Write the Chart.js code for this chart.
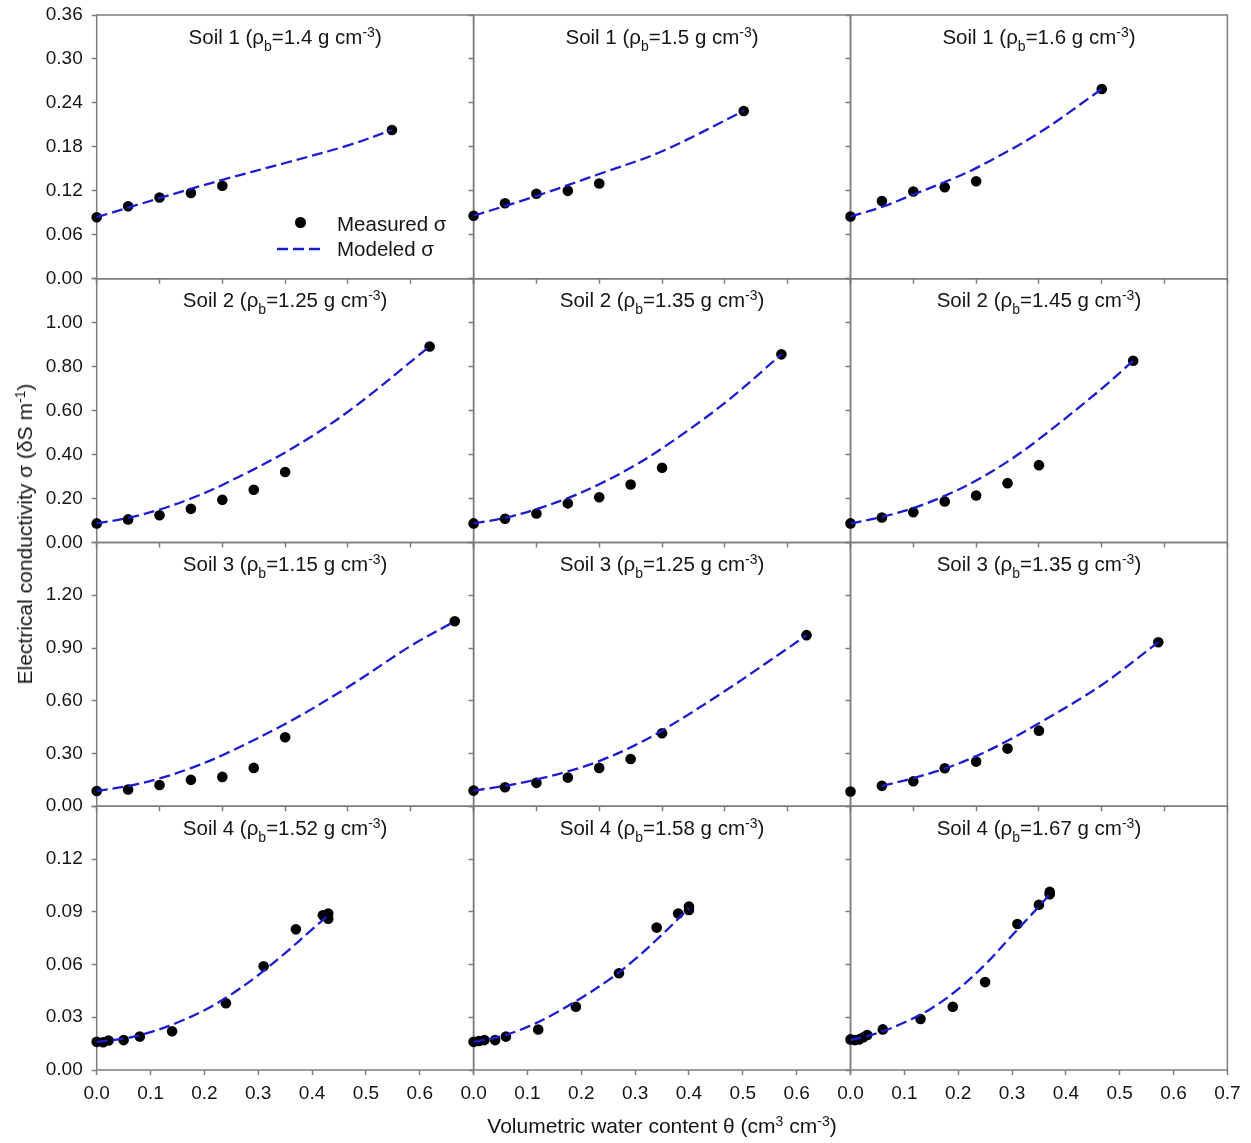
<!DOCTYPE html>
<html>
<head>
<meta charset="utf-8">
<script src="https://cdn.jsdelivr.net/npm/chart.js@4.4.0/dist/chart.umd.min.js"></script>
<style>
  body { margin: 0; background: #fff; }
  #wrap { position: relative; width: 1251px; height: 1143px; overflow: hidden; font-family: "Liberation Sans", Arial, sans-serif; color: #151515; }
  #wrap canvas { position: absolute; left: 0; }
  .ptitle { position: absolute; text-align: center; font-size: 20.5px; line-height: 19px; white-space: nowrap; }
  .txt { position: absolute; white-space: nowrap; }
  sub { font-size: 14px; vertical-align: -7px; line-height: 0; }
  sup { font-size: 14px; vertical-align: 7px; line-height: 0; }
</style>
</head>
<body>
<div id="wrap"></div>
<script>
// panel labels
const soilNo = [1, 1, 1, 2, 2, 2, 3, 3, 3, 4, 4, 4];
const rhoB = ["1.4", "1.5", "1.6", "1.25", "1.35", "1.45", "1.15", "1.25", "1.35", "1.52", "1.58", "1.67"];

// y axis per row
const yMax = [0.36, 1.2, 1.5, 0.15];
const yStep = [0.06, 0.2, 0.3, 0.03];
// x axis: rows 1-3 and row 4
const xMaxUpper = 0.6;
const xMaxLower = 0.7;

// Soil 1
const meas1a_x = [0, 0.05, 0.10, 0.15, 0.20, 0.47];
const meas1a_y = [0.084, 0.099, 0.111, 0.117, 0.127, 0.203];
const mod1a_x = [0, 0.1, 0.2, 0.3, 0.4, 0.47];
const mod1a_y = [0.084, 0.110, 0.135, 0.158, 0.182, 0.203];

const meas1b_x = [0, 0.05, 0.10, 0.15, 0.20, 0.43];
const meas1b_y = [0.086, 0.103, 0.116, 0.120, 0.130, 0.229];
const mod1b_x = [0, 0.1, 0.2, 0.3, 0.43];
const mod1b_y = [0.086, 0.113, 0.143, 0.174, 0.229];

const meas1c_x = [0, 0.05, 0.10, 0.15, 0.20, 0.40];
const meas1c_y = [0.085, 0.106, 0.119, 0.125, 0.133, 0.259];
const mod1c_x = [0, 0.05, 0.1, 0.15, 0.2, 0.3, 0.4];
const mod1c_y = [0.085, 0.098, 0.115, 0.132, 0.151, 0.199, 0.259];

// Soil 2
const meas2a_x = [0, 0.05, 0.10, 0.15, 0.20, 0.25, 0.30, 0.53];
const meas2a_y = [0.087, 0.105, 0.124, 0.153, 0.194, 0.240, 0.321, 0.892];
const mod2a_x = [0, 0.05, 0.1, 0.15, 0.2, 0.3, 0.4, 0.53];
const mod2a_y = [0.087, 0.112, 0.150, 0.200, 0.262, 0.410, 0.595, 0.892];

const meas2b_x = [0, 0.05, 0.10, 0.15, 0.20, 0.25, 0.30, 0.49];
const meas2b_y = [0.087, 0.108, 0.132, 0.178, 0.206, 0.264, 0.340, 0.856];
const mod2b_x = [0, 0.05, 0.1, 0.15, 0.2, 0.25, 0.3, 0.4, 0.49];
const mod2b_y = [0.087, 0.112, 0.152, 0.202, 0.265, 0.340, 0.428, 0.635, 0.856];

const meas2c_x = [0, 0.05, 0.10, 0.15, 0.20, 0.25, 0.30, 0.45];
const meas2c_y = [0.087, 0.114, 0.138, 0.187, 0.214, 0.270, 0.352, 0.827];
const mod2c_x = [0, 0.05, 0.1, 0.15, 0.2, 0.25, 0.3, 0.4, 0.45];
const mod2c_y = [0.087, 0.116, 0.157, 0.212, 0.282, 0.368, 0.470, 0.700, 0.827];

// Soil 3
const meas3a_x = [0, 0.05, 0.10, 0.15, 0.20, 0.25, 0.30, 0.57];
const meas3a_y = [0.087, 0.095, 0.121, 0.150, 0.167, 0.218, 0.392, 1.052];
const mod3a_x = [0, 0.05, 0.1, 0.15, 0.2, 0.3, 0.4, 0.5, 0.57];
const mod3a_y = [0.087, 0.115, 0.158, 0.217, 0.290, 0.468, 0.678, 0.912, 1.052];

const meas3b_x = [0, 0.05, 0.10, 0.15, 0.20, 0.25, 0.30, 0.53];
const meas3b_y = [0.089, 0.108, 0.133, 0.163, 0.218, 0.269, 0.415, 0.973];
const mod3b_x = [0, 0.05, 0.1, 0.15, 0.2, 0.25, 0.3, 0.4, 0.5, 0.53];
const mod3b_y = [0.089, 0.116, 0.152, 0.198, 0.257, 0.335, 0.430, 0.655, 0.898, 0.973];

const meas3c_x = [0, 0.05, 0.10, 0.15, 0.20, 0.25, 0.30, 0.49];
const meas3c_y = [0.084, 0.116, 0.142, 0.216, 0.254, 0.328, 0.430, 0.933];
const mod3c_x = [0.05, 0.1, 0.15, 0.2, 0.25, 0.3, 0.4, 0.49];
const mod3c_y = [0.116, 0.160, 0.214, 0.285, 0.372, 0.472, 0.690, 0.933];

// Soil 4
const meas4a_x = [0, 0.012, 0.022, 0.05, 0.08, 0.14, 0.24, 0.31, 0.37, 0.42, 0.43, 0.43];
const meas4a_y = [0.016, 0.0158, 0.0168, 0.017, 0.019, 0.022, 0.038, 0.059, 0.080, 0.088, 0.089, 0.086];
const mod4a_x = [0, 0.05, 0.1, 0.15, 0.2, 0.25, 0.3, 0.35, 0.4, 0.43];
const mod4a_y = [0.016, 0.0178, 0.0215, 0.027, 0.034, 0.043, 0.054, 0.0665, 0.080, 0.088];

const meas4b_x = [0, 0.01, 0.02, 0.04, 0.06, 0.12, 0.19, 0.27, 0.34, 0.38, 0.40, 0.40];
const meas4b_y = [0.016, 0.0165, 0.017, 0.017, 0.019, 0.023, 0.036, 0.055, 0.081, 0.089, 0.093, 0.091];
const mod4b_x = [0, 0.05, 0.1, 0.15, 0.2, 0.25, 0.3, 0.35, 0.4];
const mod4b_y = [0.016, 0.019, 0.0245, 0.032, 0.041, 0.051, 0.063, 0.077, 0.092];

const meas4c_x = [0, 0.008, 0.016, 0.024, 0.031, 0.06, 0.13, 0.19, 0.25, 0.31, 0.35, 0.37, 0.37];
const meas4c_y = [0.0174, 0.017, 0.0174, 0.0186, 0.0199, 0.0231, 0.029, 0.036, 0.050, 0.083, 0.094, 0.1013, 0.100];
const mod4c_x = [0, 0.05, 0.1, 0.15, 0.2, 0.25, 0.3, 0.35, 0.37];
const mod4c_y = [0.017, 0.021, 0.027, 0.035, 0.046, 0.060, 0.0765, 0.093, 0.100];

const measX = [meas1a_x, meas1b_x, meas1c_x, meas2a_x, meas2b_x, meas2c_x, meas3a_x, meas3b_x, meas3c_x, meas4a_x, meas4b_x, meas4c_x];
const measY = [meas1a_y, meas1b_y, meas1c_y, meas2a_y, meas2b_y, meas2c_y, meas3a_y, meas3b_y, meas3c_y, meas4a_y, meas4b_y, meas4c_y];
const modX = [mod1a_x, mod1b_x, mod1c_x, mod2a_x, mod2b_x, mod2c_x, mod3a_x, mod3b_x, mod3c_x, mod4a_x, mod4b_x, mod4c_x];
const modY = [mod1a_y, mod1b_y, mod1c_y, mod2a_y, mod2b_y, mod2c_y, mod3a_y, mod3b_y, mod3c_y, mod4a_y, mod4b_y, mod4c_y];

// layout
const W = 1251, H = 1143;
const OFF = 20; // canvases start above the page so the top tick label has room
const colLeft = [96.7, 473.6, 850.5], colW = 376.9;
const rowTop = [15, 278.75, 542.5, 806.25], rowH = 263.75;
const YW = 90, XH = 40; // axis box sizes (labels are clipped to them)
const FONT = '"Liberation Sans", Arial, sans-serif';
const AXIS = "#7d7d7d";
const TXT = "#151515";
const BLUE = "#1d1dcf";

const wrap = document.getElementById("wrap");

const frame = {
    id: "frame",
    beforeDatasetsDraw(chart) {
        const { ctx, chartArea: a } = chart;
        ctx.save();
        ctx.strokeStyle = AXIS;
        ctx.lineWidth = 1.5;
        ctx.strokeRect(a.left, a.top, a.right - a.left, a.bottom - a.top);
        ctx.restore();
    }
};

function pts(xs, ys) {
    return xs.map((x, i) => ({ x: x, y: ys[i] }));
}

function addText(html, cls, style) {
    const d = document.createElement("div");
    d.className = cls;
    d.innerHTML = html;
    Object.assign(d.style, style);
    wrap.appendChild(d);
    return d;
}

for (let i = 0; i < 12; i++) {
    const row = Math.floor(i / 3), col = i % 3;
    const L = colLeft[col], T = rowTop[row];
    const R = L + colW, B = T + rowH;
    const cv = document.createElement("canvas");
    cv.width = W; cv.height = H + OFF;
    cv.style.top = -OFF + "px";
    wrap.appendChild(cv);
    const xMax = row === 3 ? xMaxLower : xMaxUpper;

    new Chart(cv, {
        type: "scatter",
        data: {
            datasets: [
                {
                    label: "Modeled σ",
                    data: pts(modX[i], modY[i]),
                    showLine: true,
                    borderColor: BLUE,
                    borderWidth: 2.3,
                    borderDash: [11, 5],
                    pointRadius: 0,
                    tension: 0.35,
                    fill: false,
                    clip: false
                },
                {
                    label: "Measured σ",
                    data: pts(measX[i], measY[i]),
                    pointRadius: 5.3,
                    backgroundColor: "#000",
                    borderColor: "#000",
                    borderWidth: 0,
                    clip: false
                }
            ]
        },
        options: {
            responsive: false,
            animation: false,
            events: [],
            layout: { padding: { left: L - YW, right: W - R, top: T + OFF, bottom: H - B - XH } },
            plugins: { legend: { display: false }, tooltip: { enabled: false } },
            scales: {
                x: {
                    type: "linear",
                    min: 0,
                    max: xMax,
                    afterFit: s => { s.height = XH; },
                    border: { display: false },
                    grid: { drawOnChartArea: false, drawTicks: true, tickLength: 5, tickColor: AXIS, tickWidth: 1.5 },
                    ticks: {
                        display: row === 3,
                        stepSize: 0.1,
                        autoSkip: false,
                        maxRotation: 0,
                        padding: 7,
                        color: TXT,
                        font: { family: FONT, size: 19 },
                        callback: v => (col < 2 && Math.abs(v - xMaxLower) < 1e-6) ? "" : Number(v).toFixed(1)
                    }
                },
                y: {
                    type: "linear",
                    min: 0,
                    max: yMax[row],
                    afterFit: s => { s.width = YW; },
                    border: { display: false },
                    grid: { drawOnChartArea: false, drawTicks: true, tickLength: 5, tickColor: AXIS, tickWidth: 1.5 },
                    ticks: {
                        display: col === 0,
                        stepSize: yStep[row],
                        autoSkip: false,
                        padding: 9,
                        color: TXT,
                        font: { family: FONT, size: 19 },
                        callback: v => (row > 0 && Math.abs(v - yMax[row]) < 1e-6) ? "" : Number(v).toFixed(2)
                    }
                }
            }
        },
        plugins: [frame]
    });

    addText("Soil " + soilNo[i] + " (ρ<sub>b</sub>=" + rhoB[i] + " g cm<sup>-3</sup>)", "ptitle",
        { left: L + "px", width: colW + "px", top: (T + 11.5) + "px" });
}

// legend in first panel
const dot = document.createElement("div");
Object.assign(dot.style, { position: "absolute", left: (300.7 - 5.3) + "px", top: (222.7 - 5.3) + "px",
    width: "10.6px", height: "10.6px", borderRadius: "50%", background: "#000" });
wrap.appendChild(dot);
addText('<svg width="44" height="6" style="display:block"><line x1="0" y1="3" x2="44" y2="3" stroke="' + BLUE +
    '" stroke-width="2.3" stroke-dasharray="11,5"/></svg>', "txt", { left: "276.5px", top: "246.3px" });
addText("Measured σ", "txt", { left: "337px", top: "214px", fontSize: "20.5px", lineHeight: "20px" });
addText("Modeled σ", "txt", { left: "337px", top: "239px", fontSize: "20.5px", lineHeight: "20px" });

// axis titles
addText("Volumetric water content θ (cm<sup>3</sup> cm<sup>-3</sup>)", "txt",
    { left: "662px", top: "1116px", fontSize: "21px", lineHeight: "20px", transform: "translateX(-50%)" });
addText("Electrical conductivity σ (δS m<sup>-1</sup>)", "txt",
    { left: "25px", top: "534px", fontSize: "21px", lineHeight: "20px", transform: "translate(-50%,-50%) rotate(-90deg)" });
</script>
</body>
</html>
